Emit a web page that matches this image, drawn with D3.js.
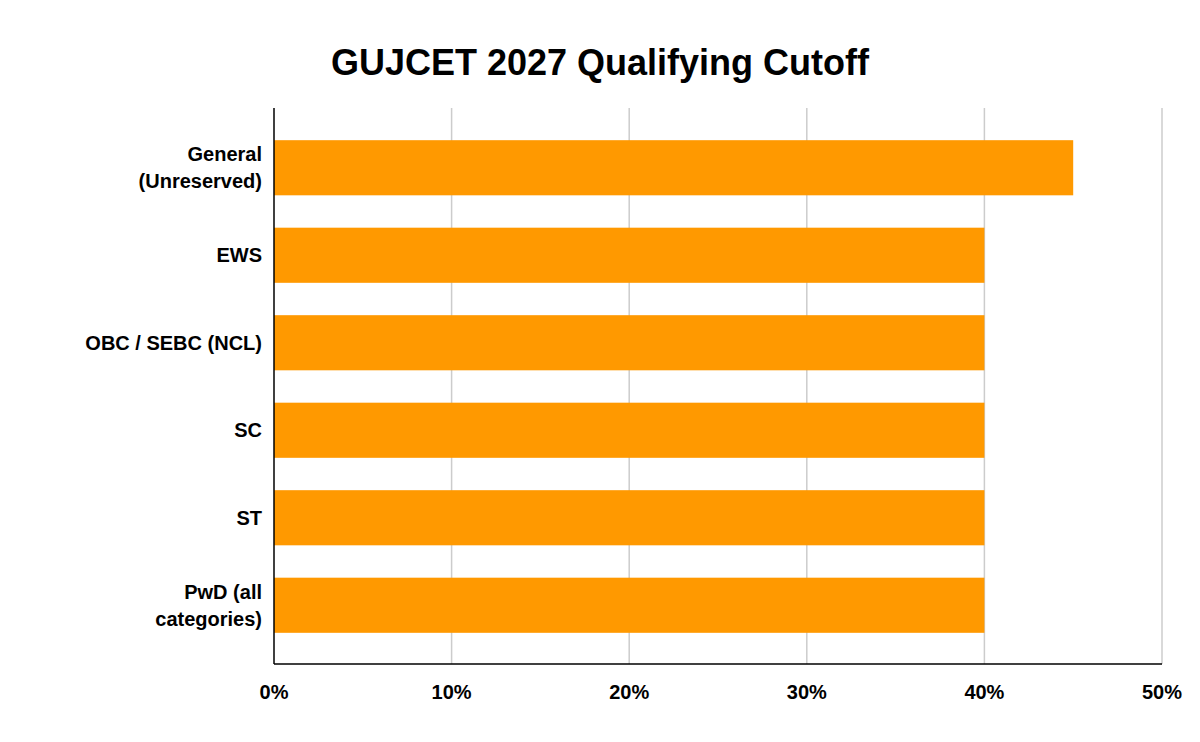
<!DOCTYPE html>
<html><head><meta charset="utf-8">
<script src="https://cdn.jsdelivr.net/npm/d3@7"></script>
<style>body{margin:0;background:#fff}text{font-family:"Liberation Sans",Arial,sans-serif;font-weight:bold}</style>
</head><body>
<script>
const categories = [["General", "(Unreserved)"], ["EWS"], ["OBC / SEBC (NCL)"], ["SC"], ["ST"], ["PwD (all", "categories)"]];
const values = [45, 40, 40, 40, 40, 40];
const ticks = [0, 10, 20, 30, 40, 50];

const svg = d3.select('body').append('svg').attr('width', 1200).attr('height', 742);

const x = d3.scaleLinear().domain([0, 50]).range([274, 1162]);
const y = d3.scaleBand().domain(d3.range(categories.length)).range([124, 649]).paddingInner(0.37).paddingOuter(0.185);

svg.append('text').attr('x', 600).attr('y', 75).attr('text-anchor', 'middle')
  .attr('font-size', 36).attr('fill', '#000').text('GUJCET 2027 Qualifying Cutoff');

svg.selectAll('line.grid').data(ticks.slice(1)).enter().append('line')
  .attr('x1', d => x(d)).attr('x2', d => x(d)).attr('y1', 108).attr('y2', 664)
  .attr('stroke', '#cccccc').attr('stroke-width', 1.5);

svg.selectAll('rect').data(values).enter().append('rect')
  .attr('x', x(0)).attr('y', (d, i) => y(i)).attr('width', d => x(d) - x(0))
  .attr('height', y.bandwidth()).attr('fill', '#ff9900');

svg.append('line').attr('x1', x(0)).attr('x2', x(0)).attr('y1', 108).attr('y2', 664).attr('stroke', '#000').attr('stroke-width', 1.5);
svg.append('line').attr('x1', x(0)).attr('x2', x(50)).attr('y1', 664).attr('y2', 664).attr('stroke', '#000').attr('stroke-width', 1.5);

svg.selectAll('text.tick').data(ticks).enter().append('text')
  .attr('x', d => x(d)).attr('y', 699).attr('text-anchor', 'middle').attr('font-size', 20)
  .text(d => d + '%');

categories.forEach((lines, i) => {
  const cy = y(i) + y.bandwidth() / 2;
  const t = svg.append('text').attr('text-anchor', 'end').attr('font-size', 20);
  lines.forEach((l, j) => {
    t.append('tspan').attr('x', 262).attr('y', cy + 7 + (j - (lines.length - 1) / 2) * 27).text(l);
  });
});
</script>
</body></html>
